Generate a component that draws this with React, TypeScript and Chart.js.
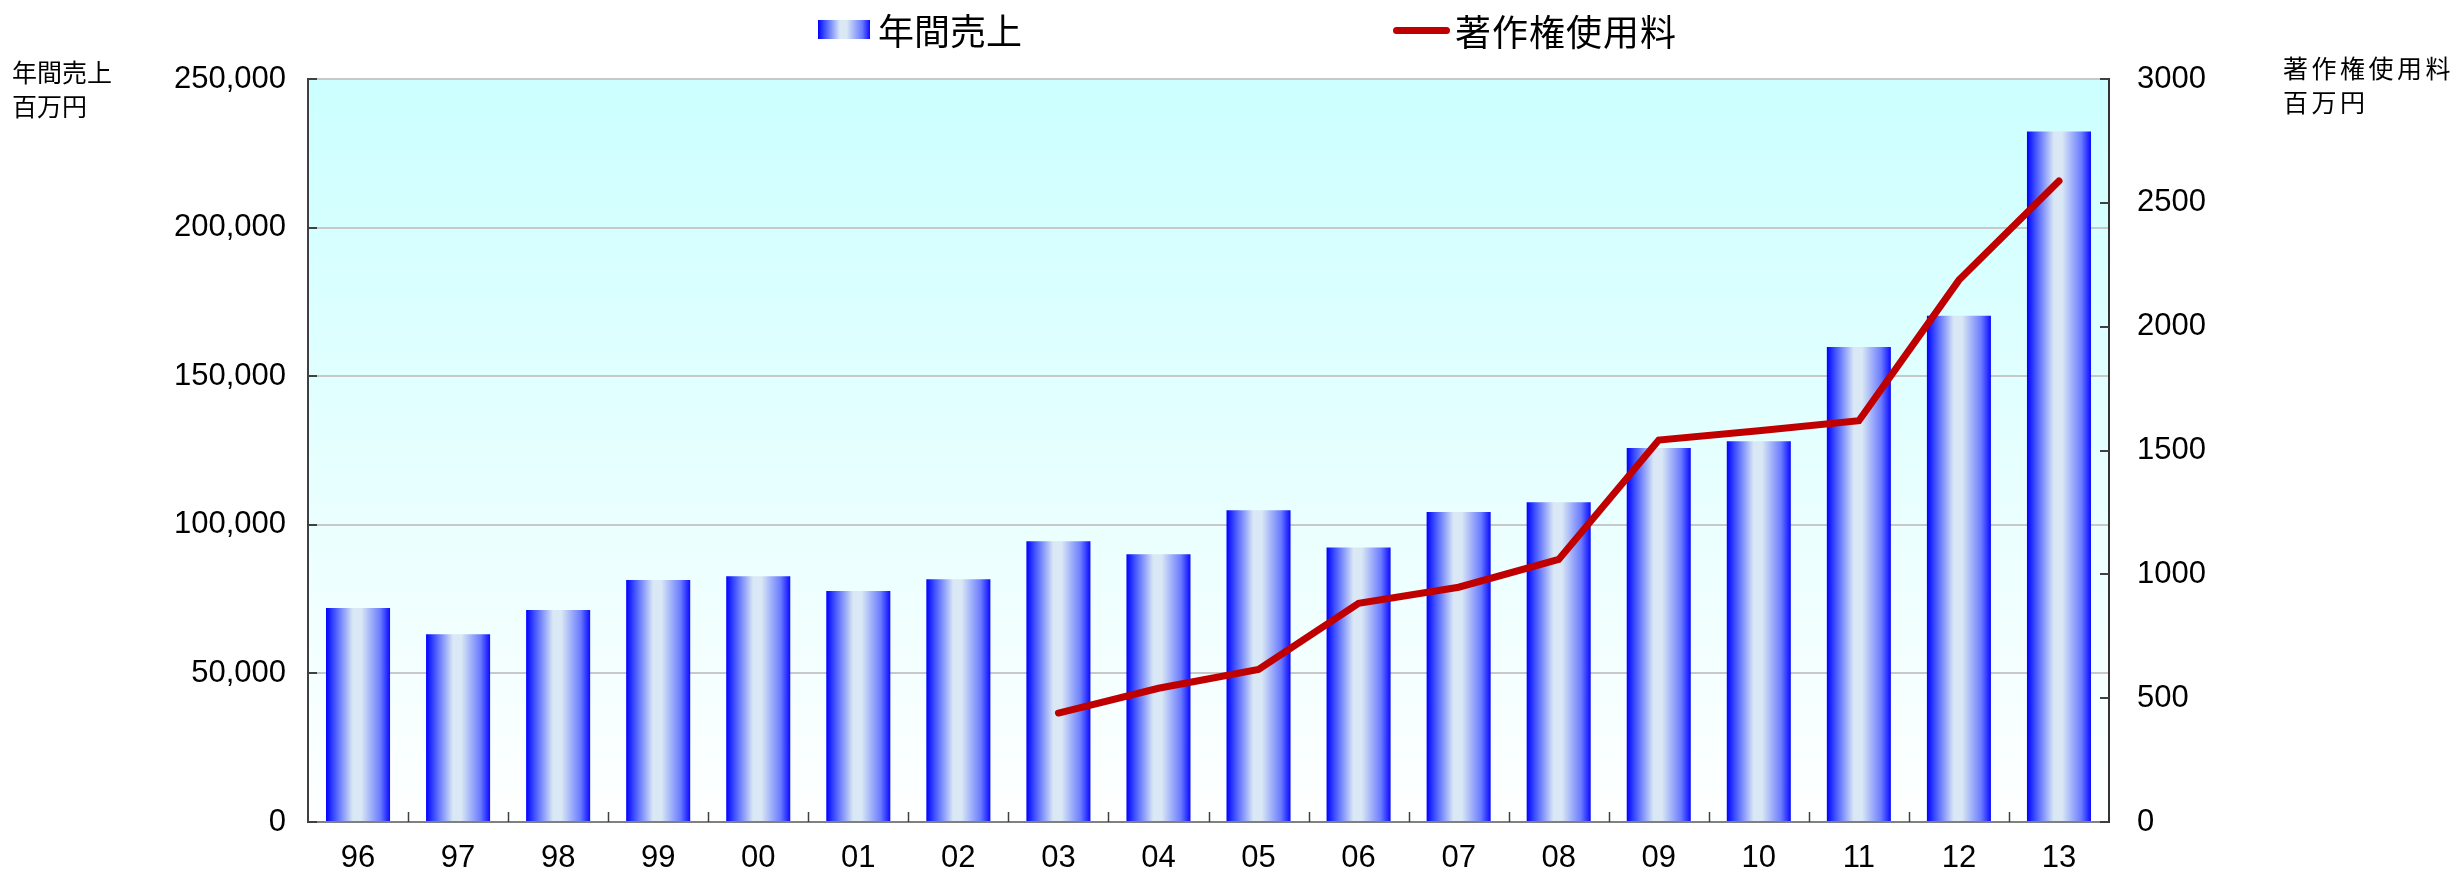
import React, { useEffect, useRef } from 'react';
import { Chart, registerables } from 'chart.js';

Chart.register(...registerables);

// ---- data ----
const years = ['96', '97', '98', '99', '00', '01', '02', '03', '04', '05', '06', '07', '08', '09', '10', '11', '12', '13'];
const annualSales = [72000, 63200, 71300, 81400, 82700, 77700, 81700, 94500, 90100, 104900, 92400, 104300, 107600, 125800, 128100, 159800, 170300, 232300];
const royalties: (number | null)[] = [null, null, null, null, null, null, null, 440, 540, 616, 883, 948, 1060, 1542, 1580, 1620, 2188, 2588];
const salesLabel = '年間売上';
const royaltyLabel = '著作権使用料';
const leftAxisTitle = ['年間売上', '百万円'];
const rightAxisTitle = ['著作権使用料', '百万円'];
const leftMax = 250000;
const leftStep = 50000;
const rightMax = 3000;
const rightStep = 500;

const NUM_FONT = '"Liberation Sans", Arial, sans-serif';
const JP_FONT = '"Noto Sans CJK JP", "Noto Sans", sans-serif';
const BAR_PCT = 0.64;

const plotBg = {
  id: 'plotBg',
  beforeDraw(chart: any) {
    const { ctx, chartArea } = chart;
    if (!chartArea) return;
    const { left, top, right, bottom } = chartArea;
    const g = ctx.createLinearGradient(0, top, 0, bottom);
    g.addColorStop(0, '#ccffff');
    g.addColorStop(1, '#ffffff');
    ctx.save();
    ctx.fillStyle = g;
    ctx.fillRect(left, top, right - left, bottom - top);
    ctx.restore();
  },
};

const innerTicks = {
  id: 'innerTicks',
  afterDraw(chart: any) {
    const { ctx, chartArea: a, scales } = chart;
    const { x, y, y1 } = scales;
    ctx.save();
    ctx.strokeStyle = '#404040';
    ctx.lineWidth = 2;
    ctx.beginPath();
    y.ticks.forEach((_: any, i: number) => {
      const py = Math.round(y.getPixelForTick(i));
      ctx.moveTo(a.left, py);
      ctx.lineTo(a.left + 9, py);
    });
    y1.ticks.forEach((_: any, i: number) => {
      const py = Math.round(y1.getPixelForTick(i));
      ctx.moveTo(a.right, py);
      ctx.lineTo(a.right - 9, py);
    });
    ctx.stroke();
    ctx.lineWidth = 1.5;
    ctx.beginPath();
    for (let i = 1; i < years.length; i++) {
      const px = Math.round((x.getPixelForTick(i - 1) + x.getPixelForTick(i)) / 2) + 0.5;
      ctx.moveTo(px, a.bottom);
      ctx.lineTo(px, a.bottom - 10);
    }
    ctx.stroke();
    ctx.restore();
  },
};

function barGradient(context: any) {
  const chart = context.chart;
  const xs = chart.scales && chart.scales.x;
  if (!chart.chartArea || !xs || context.dataIndex === undefined) return '#0000ff';
  const cx = xs.getPixelForValue(context.dataIndex);
  const w = (chart.chartArea.width / years.length) * BAR_PCT;
  const g = chart.ctx.createLinearGradient(cx - w / 2, 0, cx + w / 2, 0);
  g.addColorStop(0, '#0000ff');
  g.addColorStop(0.12, '#3a4cff');
  g.addColorStop(0.42, '#d9e8f4');
  g.addColorStop(0.55, '#d9e8f4');
  g.addColorStop(0.85, '#6a7bff');
  g.addColorStop(1, '#0a0aff');
  return g;
}

export default function App() {
  const canvasRef = useRef<HTMLCanvasElement | null>(null);

  useEffect(() => {
    document.body.style.margin = '0';
    const canvas = canvasRef.current;
    if (!canvas) return;
    const chart = new Chart(canvas, {
      type: 'bar',
      data: {
        labels: years,
        datasets: [
          {
            type: 'line',
            label: royaltyLabel,
            data: royalties,
            yAxisID: 'y1',
            borderColor: '#c00000',
            backgroundColor: '#c00000',
            borderWidth: 7,
            borderCapStyle: 'round',
            borderJoinStyle: 'miter',
            pointRadius: 0,
            pointHoverRadius: 0,
            tension: 0,
            spanGaps: false,
            order: 0,
          } as any,
          {
            type: 'bar',
            label: salesLabel,
            data: annualSales,
            yAxisID: 'y',
            backgroundColor: barGradient,
            borderWidth: 0,
            categoryPercentage: 1,
            barPercentage: BAR_PCT,
            order: 1,
          } as any,
        ],
      },
      options: {
        animation: false,
        responsive: false,
        maintainAspectRatio: false,
        devicePixelRatio: 1,
        layout: { padding: { top: 79, left: 0, right: 0, bottom: 0 } },
        plugins: { legend: { display: false }, tooltip: { enabled: false } },
        scales: {
          x: {
            z: 1,
            grid: { display: false, drawTicks: false },
            border: { display: true, color: '#808080', width: 2 },
            ticks: { font: { family: NUM_FONT, size: 31 }, color: '#000', padding: 18, maxRotation: 0, autoSkip: false },
            afterFit: (s: any) => { s.height = 52; },
          },
          y: {
            position: 'left',
            min: 0,
            max: leftMax,
            ticks: {
              stepSize: leftStep,
              font: { family: NUM_FONT, size: 31 },
              color: '#000',
              padding: 22,
              callback: (v: any) => Number(v).toLocaleString('en-US'),
            },
            grid: { color: '#c8c8c8', lineWidth: 2, drawTicks: false },
            border: { display: true, color: '#404040', width: 2 },
            afterFit: (s: any) => { s.width = 308; },
          },
          y1: {
            position: 'right',
            min: 0,
            max: rightMax,
            ticks: {
              stepSize: rightStep,
              font: { family: NUM_FONT, size: 31 },
              color: '#000',
              padding: 28,
              callback: (v: any) => String(v),
            },
            grid: { drawOnChartArea: false, drawTicks: false },
            border: { display: true, color: '#333333', width: 2 },
            afterFit: (s: any) => { s.width = 354; },
          },
        },
      } as any,
      plugins: [plotBg, innerTicks],
    });
    return () => chart.destroy();
  }, []);

  const abs = (extra: React.CSSProperties): React.CSSProperties => ({ position: 'absolute', whiteSpace: 'nowrap', color: '#000', ...extra });

  return (
    <div style={{ position: 'relative', width: 2463, height: 874, background: '#fff', overflow: 'hidden' }}>
      <canvas ref={canvasRef} width={2463} height={874} style={{ position: 'absolute', left: 0, top: 0, width: 2463, height: 874 }} />
      <div style={abs({ left: 818, top: 20, width: 52, height: 19, background: 'linear-gradient(to right, #0000ff 0%, #3a4cff 12%, #d9e8f4 42%, #d9e8f4 55%, #6a7bff 85%, #0a0aff 100%)' })} />
      <div style={abs({ left: 878, top: 11, fontFamily: JP_FONT, fontSize: 36, lineHeight: '36px' })}>{salesLabel}</div>
      <div style={abs({ left: 1393, top: 27, width: 57, height: 7, borderRadius: 4, background: '#c00000' })} />
      <div style={abs({ left: 1455, top: 12, fontFamily: JP_FONT, fontSize: 36, lineHeight: '36px', letterSpacing: 1 })}>{royaltyLabel}</div>
      <div style={abs({ left: 12, top: 54, fontFamily: JP_FONT, fontSize: 25, lineHeight: '34px' })}>
        {leftAxisTitle[0]}<br />{leftAxisTitle[1]}
      </div>
      <div style={abs({ left: 2283, top: 50, fontFamily: JP_FONT, fontSize: 25, lineHeight: '34px', letterSpacing: 3.5 })}>
        {rightAxisTitle[0]}<br />{rightAxisTitle[1]}
      </div>
    </div>
  );
}
